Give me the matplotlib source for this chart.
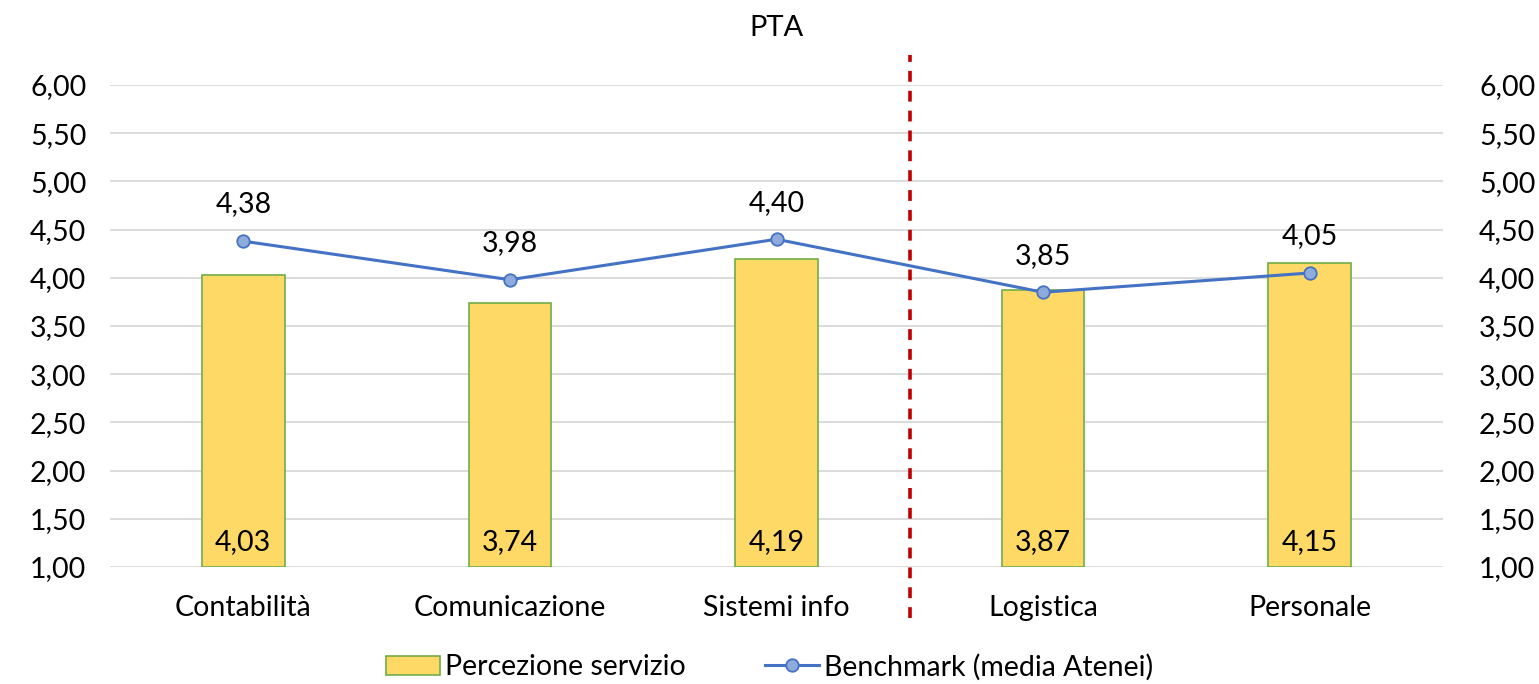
import matplotlib.pyplot as plt
import numpy as np

plt.rcParams['font.family'] = ['Lato', 'DejaVu Sans']

categories = ['Contabilità', 'Comunicazione', 'Sistemi info', 'Logistica', 'Personale']
percezione = [4.03, 3.74, 4.19, 3.87, 4.15]
benchmark = [4.38, 3.98, 4.40, 3.85, 4.05]
yticks = [1.0, 1.5, 2.0, 2.5, 3.0, 3.5, 4.0, 4.5, 5.0, 5.5, 6.0]


def fmt(v):
    return f'{v:.2f}'.replace('.', ',')


fig = plt.figure(figsize=(15.39, 6.84), dpi=100)
ax = fig.add_axes([110 / 1539, 1 - 567 / 684, 1333 / 1539, 482 / 684])
x = np.arange(len(categories))

bars = ax.bar(x, np.array(percezione) - 1.0, bottom=1.0, width=0.31, color='#FFD966',
              edgecolor='#70AD47', linewidth=1.2, label='Percezione servizio', zorder=2)
line, = ax.plot(x, benchmark, color='#4472C4', linewidth=2.2, marker='o', markersize=9,
                markerfacecolor='#8FAADC', markeredgecolor='#4472C4', markeredgewidth=1.3,
                label='Benchmark (media Atenei)', zorder=3)

fs = 20.5
for xi, v in zip(x, percezione):
    ax.text(xi, 1.26, fmt(v), ha='center', va='center', fontsize=fs, zorder=4)
for xi, v in zip(x, benchmark):
    ax.text(xi, v + 0.38, fmt(v), ha='center', va='center', fontsize=fs, zorder=4)

# separator
ax.plot([2.5, 2.5], [0.47, 6.31], color='#C00000', linewidth=2.6,
        linestyle=(0, (3, 2.5)), clip_on=False, zorder=5)

ax.set_xlim(-0.5, 4.5)
ax.set_ylim(1.0, 6.0)
ax.set_yticks(yticks)
ax.set_yticklabels([fmt(t) for t in yticks])
ax.set_xticks(x)
ax.set_xticklabels(categories)
ax.grid(axis='y', color='#D9D9D9', linewidth=1.3, zorder=0)
ax.set_axisbelow(True)
for s in ax.spines.values():
    s.set_visible(False)
ax.tick_params(axis='y', length=0, labelsize=fs, pad=17)
ax.tick_params(axis='x', length=0, labelsize=fs, pad=20)

ax2 = ax.twinx()
ax2.set_ylim(1.0, 6.0)
ax2.set_yticks(yticks)
ax2.set_yticklabels([fmt(t) for t in yticks])
ax2.tick_params(axis='y', length=0, labelsize=fs, pad=26)
for s in ax2.spines.values():
    s.set_visible(False)

fig.text(776 / 1539, 1 - 28 / 684, 'PTA', ha='center', va='center', fontsize=21)

fig.legend([bars, line], ['Percezione servizio', 'Benchmark (media Atenei)'],
           loc='center', bbox_to_anchor=(0.5, 1 - 667 / 684), ncol=2, frameon=False,
           fontsize=fs, handlelength=1.9, columnspacing=2.8, handletextpad=0.15)

fig.savefig('out.png', dpi=100)
